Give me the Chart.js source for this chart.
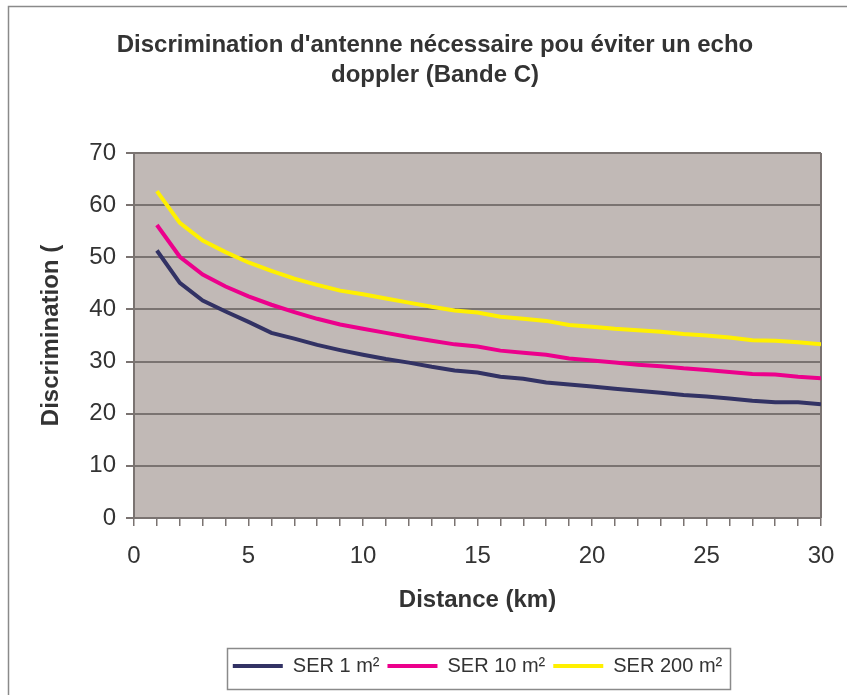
<!DOCTYPE html>
<html lang="fr">
<head>
<meta charset="utf-8">
<title>Discrimination d'antenne nécessaire</title>
<script src="https://cdn.jsdelivr.net/npm/chart.js@4/dist/chart.umd.min.js"></script>
<style>
  html, body { margin: 0; padding: 0; background: #ffffff; }
  #wrap { width: 847px; height: 695px; }
  canvas { display: block; }
</style>
</head>
<body>
<div id="wrap"><canvas id="chart" width="847" height="695"></canvas></div>
<script>
// Distance from the radar, km
const distances = [1, 2, 3, 4, 5, 6, 7, 8, 9, 10, 11, 12, 13, 14, 15, 16, 17, 18, 19, 20,
                   21, 22, 23, 24, 25, 26, 27, 28, 29, 30];

// Required antenna discrimination (dB) for each radar cross-section
const ser1 = [51.3, 45.1, 41.7, 39.6, 37.6, 35.5, 34.4, 33.2, 32.2, 31.3,
              30.5, 29.8, 29.0, 28.3, 27.9, 27.1, 26.7, 26.0, 25.6, 25.2,
              24.8, 24.4, 24.0, 23.6, 23.3, 22.9, 22.5, 22.2, 22.2, 21.8];
const ser10 = [56.2, 50.1, 46.7, 44.4, 42.5, 40.9, 39.5, 38.2, 37.1, 36.3,
               35.5, 34.7, 34.0, 33.3, 32.9, 32.1, 31.7, 31.3, 30.6, 30.2,
               29.8, 29.4, 29.1, 28.7, 28.4, 28.0, 27.6, 27.5, 27.1, 26.8];
const ser200 = [62.7, 56.6, 53.2, 51.0, 49.0, 47.4, 45.9, 44.7, 43.6, 42.9,
                42.1, 41.3, 40.5, 39.8, 39.4, 38.6, 38.2, 37.8, 37.0, 36.7,
                36.3, 36.0, 35.7, 35.3, 35.0, 34.6, 34.1, 34.0, 33.7, 33.3];

const seriesNames = ['SER 1 m²', 'SER 10 m²', 'SER 200 m²'];
const titleLines = ["Discrimination d'antenne nécessaire pou éviter un echo", 'doppler (Bande C)'];
const xAxisTitle = 'Distance (km)';
const yAxisTitle = 'Discrimination (';

const COLORS = ['#323264', '#ec008c', '#fff000'];
const PLOT_BG = '#c1b9b6';
const GRID = '#7a7371';
const TEXT = '#333333';
const FONT = '"Liberation Sans", Arial, sans-serif';

const toPoints = (ys) => ys.map((y, i) => ({ x: distances[i], y }));

// Frame, plot background, plot right edge and legend box
const chartFrame = {
  id: 'chartFrame',
  beforeDraw(chart) {
    const { ctx, chartArea: a } = chart;
    ctx.save();
    ctx.fillStyle = '#ffffff';
    ctx.fillRect(0, 0, chart.width, chart.height);
    ctx.strokeStyle = '#8a8a8a';
    ctx.lineWidth = 1.5;
    ctx.beginPath();
    ctx.moveTo(8.5, chart.height);
    ctx.lineTo(8.5, 6.5);
    ctx.lineTo(chart.width, 6.5);
    ctx.stroke();
    ctx.fillStyle = PLOT_BG;
    ctx.fillRect(a.left, a.top, a.right - a.left, a.bottom - a.top);
    ctx.restore();
  },
  beforeDatasetsDraw(chart) {
    const { ctx, chartArea: a } = chart;
    ctx.save();
    ctx.strokeStyle = GRID;
    ctx.lineWidth = 2;
    ctx.beginPath();
    ctx.moveTo(a.right, a.top);
    ctx.lineTo(a.right, a.bottom);
    ctx.stroke();
    ctx.restore();
  },
  afterDraw(chart) {
    const lg = chart.legend;
    if (!lg || !lg.legendHitBoxes || !lg.legendHitBoxes.length) return;
    const boxes = lg.legendHitBoxes;
    const l = Math.min(...boxes.map(b => b.left)) - 6;
    const r = Math.max(...boxes.map(b => b.left + b.width)) + 8;
    const { ctx } = chart;
    ctx.save();
    ctx.strokeStyle = '#8a8a8a';
    ctx.lineWidth = 1.5;
    ctx.strokeRect(Math.round(l) + 0.5, Math.round(lg.top) + 0.5, Math.round(r - l), Math.round(lg.height + 3));
    ctx.restore();
  }
};

new Chart(document.getElementById('chart'), {
  type: 'line',
  data: {
    datasets: [
      { label: seriesNames[0], data: toPoints(ser1) },
      { label: seriesNames[1], data: toPoints(ser10) },
      { label: seriesNames[2], data: toPoints(ser200) }
    ].map((ds, i) => Object.assign(ds, {
      borderColor: COLORS[i],
      backgroundColor: COLORS[i],
      borderWidth: 4,
      pointRadius: 0,
      tension: 0,
      fill: false
    }))
  },
  options: {
    responsive: false,
    animation: false,
    devicePixelRatio: 1,
    layout: { padding: { left: 49, right: 26, top: 0, bottom: 9 } },
    plugins: {
      title: {
        display: true,
        text: titleLines,
        color: TEXT,
        font: { family: FONT, size: 24, weight: 'bold', lineHeight: 1.25 },
        padding: { top: 30, bottom: 63 }
      },
      legend: {
        display: true,
        position: 'bottom',
        fullSize: false,
        labels: {
          color: TEXT,
          font: { family: FONT, size: 20 },
          boxWidth: 50,
          boxHeight: 4,
          padding: 8,
          generateLabels(chart) {
            return Chart.defaults.plugins.legend.labels.generateLabels(chart)
              .map(item => Object.assign(item, { fillStyle: item.strokeStyle, lineWidth: 0 }));
          }
        }
      },
      tooltip: { enabled: false }
    },
    scales: {
      x: {
        type: 'linear',
        min: 0,
        max: 30,
        afterFit(scale) {
          scale.height = 130;
          scale.paddingLeft = 10;
          scale.paddingRight = 10;
        },
        border: { display: true, color: GRID, width: 2 },
        grid: { drawOnChartArea: false, drawTicks: true, tickLength: 8, color: GRID, lineWidth: 1.5 },
        ticks: {
          stepSize: 1,
          autoSkip: false,
          maxRotation: 0,
          padding: 16,
          color: TEXT,
          font: { family: FONT, size: 24 },
          callback: (v) => (v % 5 === 0 ? String(v) : '')
        },
        title: {
          display: true,
          text: xAxisTitle,
          color: TEXT,
          font: { family: FONT, size: 24, weight: 'bold', lineHeight: 1.2 },
          padding: { top: 0, bottom: 33 }
        }
      },
      y: {
        min: 0,
        max: 70,
        afterFit(scale) { scale.width = 85; },
        border: { display: true, color: GRID, width: 2 },
        grid: { drawOnChartArea: true, drawTicks: true, tickLength: 8, color: GRID, lineWidth: 2 },
        ticks: {
          stepSize: 10,
          padding: 10,
          color: TEXT,
          font: { family: FONT, size: 24 }
        },
        title: {
          display: true,
          text: yAxisTitle,
          color: TEXT,
          font: { family: FONT, size: 24, weight: 'bold', lineHeight: 1.2 },
          padding: { top: -12, bottom: 0 }
        }
      }
    }
  },
  plugins: [chartFrame]
});
</script>
</body>
</html>
